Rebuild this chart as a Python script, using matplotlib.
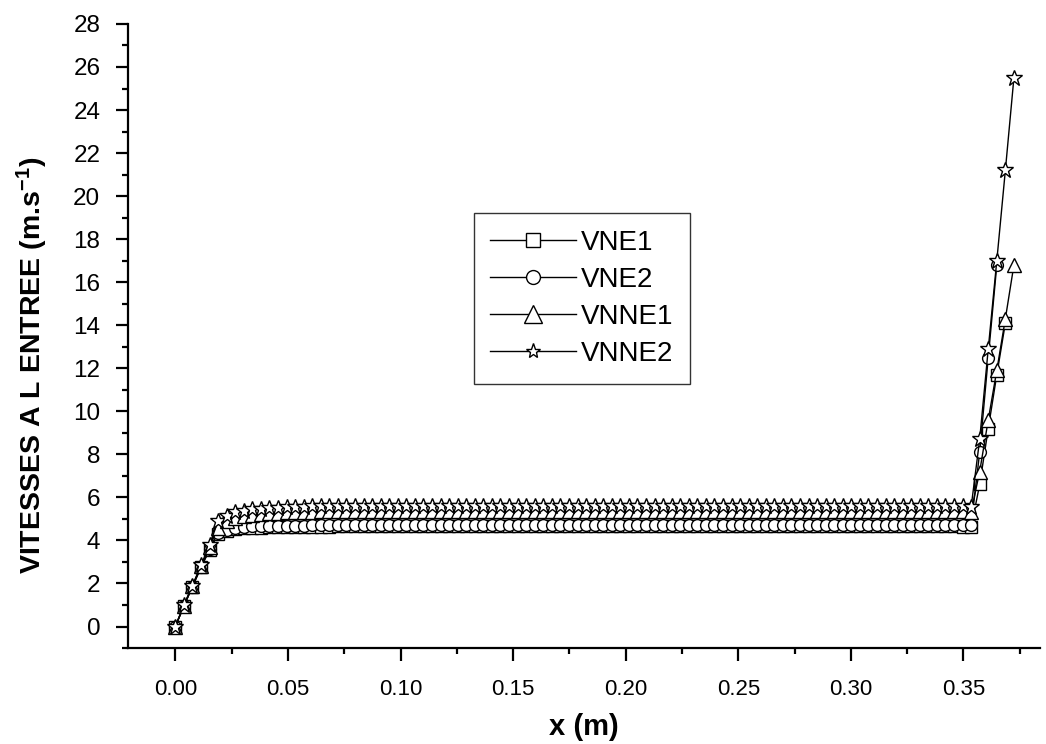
import numpy as np
import matplotlib
matplotlib.use('Agg')
import matplotlib.pyplot as plt
from matplotlib.ticker import MultipleLocator, FormatStrFormatter

plt.rcParams['font.family'] = ['Liberation Sans', 'DejaVu Sans']
plt.rcParams['mathtext.default'] = 'regular'

# x positions (m)
x = [0.0, 0.0038, 0.0076, 0.0114, 0.0152, 0.019, 0.0228, 0.0266, 0.0304, 0.0342,
     0.038, 0.0418, 0.0456, 0.0494, 0.0532, 0.057, 0.0608, 0.0646, 0.0684, 0.0722,
     0.076, 0.0798, 0.0836, 0.0874, 0.0912, 0.095, 0.0988, 0.1026, 0.1064, 0.1102,
     0.114, 0.1178, 0.1216, 0.1254, 0.1292, 0.133, 0.1368, 0.1406, 0.1444, 0.1482,
     0.152, 0.1558, 0.1596, 0.1634, 0.1672, 0.171, 0.1748, 0.1786, 0.1824, 0.1862,
     0.19, 0.1938, 0.1976, 0.2014, 0.2052, 0.209, 0.2128, 0.2166, 0.2204, 0.2242,
     0.228, 0.2318, 0.2356, 0.2394, 0.2432, 0.247, 0.2508, 0.2546, 0.2584, 0.2622,
     0.266, 0.2698, 0.2736, 0.2774, 0.2812, 0.285, 0.2888, 0.2926, 0.2964, 0.3002,
     0.304, 0.3078, 0.3116, 0.3154, 0.3192, 0.323, 0.3268, 0.3306, 0.3344, 0.3382,
     0.342, 0.3458, 0.3496, 0.3534, 0.3572, 0.361, 0.3648, 0.3686, 0.3724]

vne1 = [0, 0.95, 1.85, 2.75, 3.55, 4.3, 4.45, 4.52, 4.56, 4.58,
        4.6, 4.61, 4.62, 4.62, 4.63, 4.63, 4.64, 4.64, 4.64, 4.65,
        4.65, 4.65, 4.65, 4.65, 4.65, 4.65, 4.65, 4.65, 4.65, 4.65,
        4.65, 4.65, 4.65, 4.65, 4.65, 4.65, 4.65, 4.65, 4.65, 4.65,
        4.65, 4.65, 4.65, 4.65, 4.65, 4.65, 4.65, 4.65, 4.65, 4.65,
        4.65, 4.65, 4.65, 4.65, 4.65, 4.65, 4.65, 4.65, 4.65, 4.65,
        4.65, 4.65, 4.65, 4.65, 4.65, 4.65, 4.65, 4.65, 4.65, 4.65,
        4.65, 4.65, 4.65, 4.65, 4.65, 4.65, 4.65, 4.65, 4.65, 4.65,
        4.65, 4.65, 4.65, 4.65, 4.65, 4.65, 4.65, 4.65, 4.65, 4.65,
        4.65, 4.65, 4.64, 4.62, 6.6, 9.2, 11.7, 14.1]

vne2 = [0, 0.95, 1.85, 2.75, 3.6, 4.35, 4.5, 4.58, 4.62, 4.65,
        4.66, 4.67, 4.68, 4.68, 4.69, 4.69, 4.7, 4.7, 4.7, 4.7,
        4.7, 4.7, 4.7, 4.7, 4.7, 4.7, 4.7, 4.7, 4.7, 4.7,
        4.7, 4.7, 4.7, 4.7, 4.7, 4.7, 4.7, 4.7, 4.7, 4.7,
        4.7, 4.7, 4.7, 4.7, 4.7, 4.7, 4.7, 4.7, 4.7, 4.7,
        4.7, 4.7, 4.7, 4.7, 4.7, 4.7, 4.7, 4.7, 4.7, 4.7,
        4.7, 4.7, 4.7, 4.7, 4.7, 4.7, 4.7, 4.7, 4.7, 4.7,
        4.7, 4.7, 4.7, 4.7, 4.7, 4.7, 4.7, 4.7, 4.7, 4.7,
        4.7, 4.7, 4.7, 4.7, 4.7, 4.7, 4.7, 4.7, 4.7, 4.7,
        4.7, 4.7, 4.7, 4.7, 8.1, 12.5, 16.8]

vnne1 = [0, 0.95, 1.9, 2.8, 3.7, 4.6, 4.9, 5.05, 5.15, 5.2,
         5.24, 5.27, 5.29, 5.31, 5.32, 5.33, 5.34, 5.35, 5.35, 5.36,
         5.36, 5.36, 5.36, 5.36, 5.36, 5.36, 5.36, 5.36, 5.36, 5.36,
         5.36, 5.36, 5.36, 5.36, 5.36, 5.36, 5.36, 5.36, 5.36, 5.36,
         5.36, 5.36, 5.36, 5.36, 5.36, 5.36, 5.36, 5.36, 5.36, 5.36,
         5.36, 5.36, 5.36, 5.36, 5.36, 5.36, 5.36, 5.36, 5.36, 5.36,
         5.36, 5.36, 5.36, 5.36, 5.36, 5.36, 5.36, 5.36, 5.36, 5.36,
         5.36, 5.36, 5.36, 5.36, 5.36, 5.36, 5.36, 5.36, 5.36, 5.36,
         5.36, 5.36, 5.36, 5.36, 5.36, 5.36, 5.36, 5.36, 5.36, 5.36,
         5.36, 5.36, 5.35, 5.34, 7.2, 9.6, 11.9, 14.3, 16.8]

vnne2 = [0, 1.0, 1.9, 2.85, 3.8, 4.9, 5.15, 5.3, 5.38, 5.44,
         5.48, 5.51, 5.53, 5.55, 5.56, 5.57, 5.58, 5.59, 5.6, 5.6,
         5.6, 5.6, 5.6, 5.6, 5.6, 5.6, 5.6, 5.6, 5.6, 5.6,
         5.6, 5.6, 5.6, 5.6, 5.6, 5.6, 5.6, 5.6, 5.6, 5.6,
         5.6, 5.6, 5.6, 5.6, 5.6, 5.6, 5.6, 5.6, 5.6, 5.6,
         5.6, 5.6, 5.6, 5.6, 5.6, 5.6, 5.6, 5.6, 5.6, 5.6,
         5.6, 5.6, 5.6, 5.6, 5.6, 5.6, 5.6, 5.6, 5.6, 5.6,
         5.6, 5.6, 5.6, 5.6, 5.6, 5.6, 5.6, 5.6, 5.6, 5.6,
         5.6, 5.6, 5.6, 5.6, 5.6, 5.6, 5.6, 5.6, 5.6, 5.6,
         5.6, 5.6, 5.58, 5.55, 8.7, 12.9, 17.0, 21.2, 25.5]

series = [('VNE1', vne1, 's', 8), ('VNE2', vne2, 'o', 8.5),
          ('VNNE1', vnne1, '^', 10), ('VNNE2', vnne2, '*', 12)]
legend_ms = [9.5, 10, 13, 11]

fig = plt.figure(figsize=(10.46, 7.44), dpi=100)
ax = fig.add_axes([0.1224, 0.129, 0.8719, 0.8388])

for name, y, m, ms in series:
    ax.plot(x[:len(y)], y, '-', color='black', lw=1, marker=m, ms=ms,
            mfc='white', mec='black', mew=1, label=name)

ax.set_xlim(-0.021, 0.384)
ax.set_ylim(-1, 28)
ax.xaxis.set_major_locator(MultipleLocator(0.05))
ax.xaxis.set_minor_locator(MultipleLocator(0.025))
ax.yaxis.set_major_locator(MultipleLocator(2))
ax.yaxis.set_minor_locator(MultipleLocator(1))
ax.xaxis.set_major_formatter(FormatStrFormatter('%.2f'))

for s in ['top', 'right']:
    ax.spines[s].set_visible(False)
for s in ['left', 'bottom']:
    ax.spines[s].set_linewidth(1.6)
ax.tick_params(which='major', direction='out', length=9, width=1.6)
ax.tick_params(which='minor', direction='out', length=4.5, width=1.6)
ax.tick_params(axis='x', which='major', labelsize=16, pad=13)
ax.tick_params(axis='y', which='major', labelsize=17.5, pad=11)

ax.set_xlabel('x (m)', fontsize=21, fontweight='bold', labelpad=10)
ax.set_ylabel('VITESSES A L ENTREE (m.s$^{-1}$)', fontsize=20.5, fontweight='bold')
ax.yaxis.set_label_coords(-0.0855, 0.4535)

leg = ax.legend(loc='upper left', bbox_to_anchor=(0.379, 0.697), fontsize=20,
                handlelength=3.1, frameon=True, fancybox=False,
                edgecolor='black', borderpad=0.6, labelspacing=0.4,
                handletextpad=0.15, borderaxespad=0)
leg.get_frame().set_linewidth(1)
for h, ms in zip(leg.legend_handles, legend_ms):
    h.set_markersize(ms)

plt.savefig('out.png', dpi=100)
